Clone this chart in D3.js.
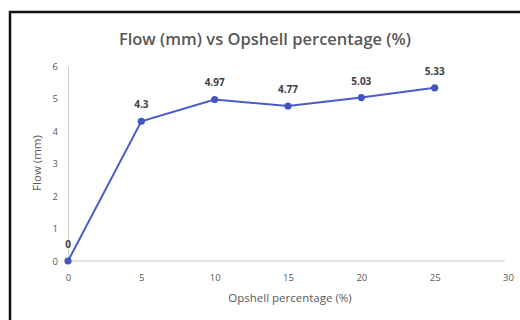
<!DOCTYPE html>
<html><head><meta charset="utf-8">
<script src="https://cdn.jsdelivr.net/npm/d3@7"></script>
<style>html,body{margin:0;padding:0;background:#fff;}svg{display:block;}</style>
</head><body>
<svg id="c" width="520" height="320"></svg>
<script>
const percentages = [0, 5, 10, 15, 20, 25];
const flowValues = [0, 4.3, 4.97, 4.77, 5.03, 5.33];
const dataLabels = ["0", "4.3", "4.97", "4.77", "5.03", "5.33"];
const xTicks = [0, 5, 10, 15, 20, 25, 30];
const yTicks = [0, 1, 2, 3, 4, 5, 6];
const titleText = "Flow (mm) vs Opshell percentage (%)";
const xTitle = "Opshell percentage (%)";
const yTitle = "Flow (mm)";

const svg = d3.select("#c");
const font = "'Open Sans', sans-serif";
const grey = "#595959";

svg.append("rect").attr("x", 0).attr("y", 0).attr("width", 520).attr("height", 320).attr("fill", "#fff");
svg.append("rect").attr("x", 10).attr("y", 12).attr("width", 530).attr("height", 330)
  .attr("fill", "#fff").attr("stroke", "#111").attr("stroke-width", 2.5);

const x = d3.scaleLinear().domain([0, 30]).range([68, 508]);
const y = d3.scaleLinear().domain([0, 6]).range([261, 66]);

// axes
const xAxis = d3.axisBottom(x).tickValues(xTicks).tickFormat(d3.format("d")).tickSize(0).tickPadding(13);
const gx = svg.append("g").attr("transform", `translate(0,${y(0)})`).call(xAxis);
gx.select(".domain").attr("stroke", "#c8c8c8").attr("stroke-width", 1).attr("d", `M${x(0)},0H${x(30)-3}`);
gx.selectAll("text").attr("font-family", font).attr("font-size", 9.5).attr("fill", grey);

const yAxis = d3.axisLeft(y).tickValues(yTicks).tickFormat(d3.format("d")).tickSize(0).tickPadding(10);
const gy = svg.append("g").attr("transform", `translate(${x(0)},0)`).call(yAxis);
gy.select(".domain").attr("stroke", "#d0d0d0").attr("stroke-width", 1);
gy.selectAll("text").attr("font-family", font).attr("font-size", 9.5).attr("fill", grey);

// title
svg.append("text").attr("x", 265).attr("y", 45).attr("text-anchor", "middle")
  .attr("font-family", font).attr("font-size", 16.5).attr("font-weight", 600).attr("fill", grey).text(titleText);
svg.append("text").attr("x", 290).attr("y", 302).attr("text-anchor", "middle")
  .attr("font-family", font).attr("font-size", 11.5).attr("fill", grey).text(xTitle);
svg.append("text").attr("transform", `translate(41,163) rotate(-90)`).attr("text-anchor", "middle")
  .attr("font-family", font).attr("font-size", 11.5).attr("fill", grey).text(yTitle);

const pts = percentages.map((p, i) => ({p, v: flowValues[i], l: dataLabels[i]}));
svg.append("path").datum(pts)
  .attr("d", d3.line().x(d => x(d.p)).y(d => y(d.v)))
  .attr("fill", "none").attr("stroke", "#4a5ccb").attr("stroke-width", 2);
svg.selectAll("circle.pt").data(pts).join("circle")
  .attr("cx", d => x(d.p)).attr("cy", d => y(d.v)).attr("r", 3.6).attr("fill", "#4356bf");
svg.selectAll("text.lbl").data(pts).join("text")
  .attr("x", d => x(d.p)).attr("y", d => y(d.v) - 13).attr("text-anchor", "middle")
  .attr("font-family", font).attr("font-size", 10).attr("font-weight", 700).attr("fill", "#404040")
  .text(d => d.l);
</script>
</body></html>
